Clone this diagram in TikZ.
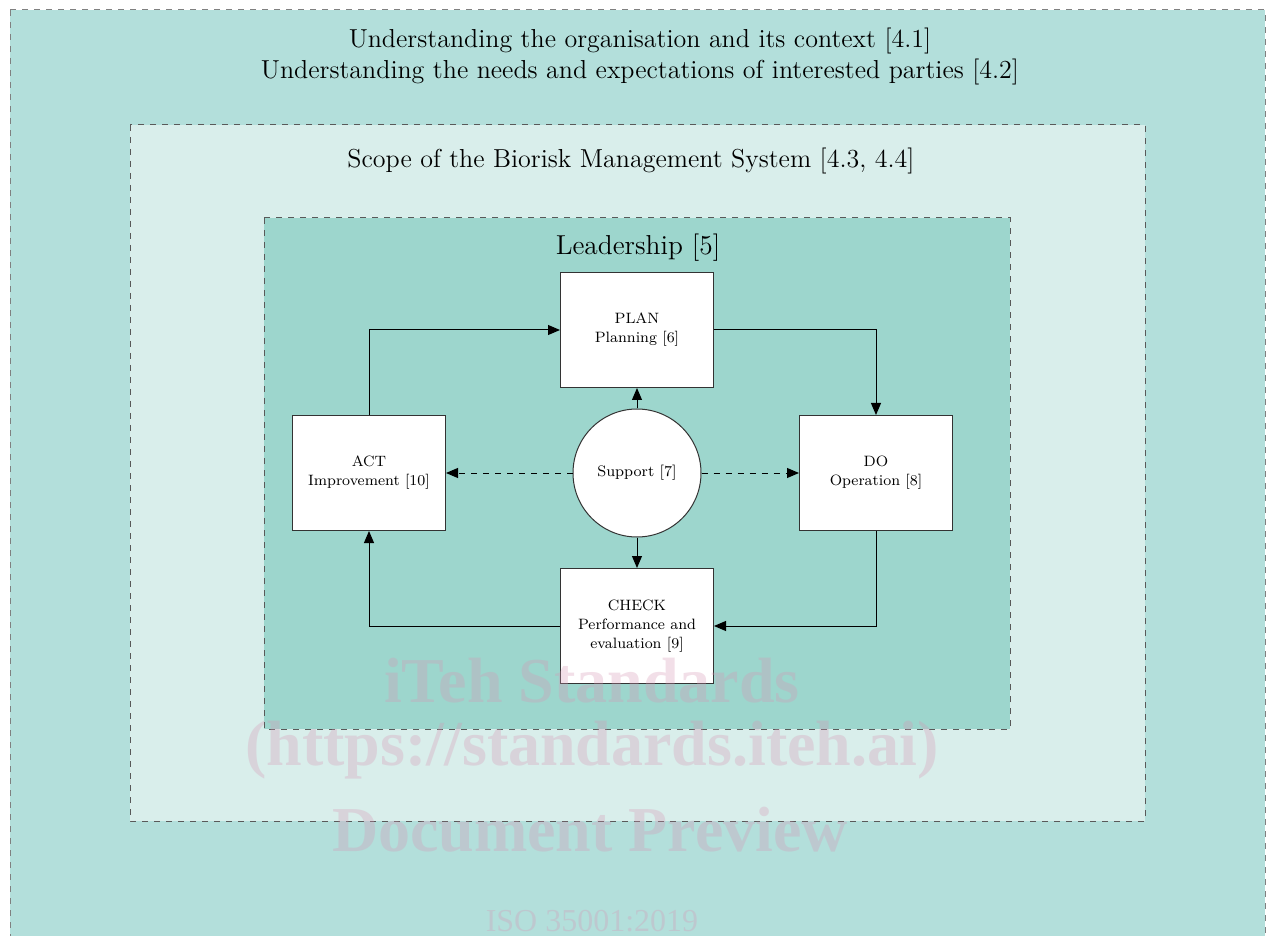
\documentclass[tikz,border=0pt]{standalone}
\usepackage{fontspec}
\usepackage{tikz}
\usepackage{xcolor}
\usetikzlibrary{arrows.meta}
\newfontfamily\markfont{Liberation Serif}
\definecolor{outer-teal}{RGB}{179,223,219}
\definecolor{scope-teal}{RGB}{217,238,235}
\definecolor{lead-teal}{RGB}{157,214,205}
\definecolor{mark-pink}{RGB}{215,150,180}
\tikzset{
    zone-box/.style = {draw=black!65, dashed, line width=0.5pt},
    zone-title/.style = {align=center, font=\fontsize{13}{15.5}\selectfont},
    step-box/.style = {draw=black!80, fill=white, line width=0.5pt, rectangle, minimum width=76.5pt, minimum height=57.5pt, align=center, font=\fontsize{7.5}{9.5}\selectfont},
    support-circle/.style = {draw=black!80, fill=white, line width=0.5pt, circle, minimum size=64pt, font=\fontsize{7.6}{9.5}\selectfont},
    flow/.style = {line width=0.5pt, -{Triangle[length=6pt,width=5pt]}},
    mark-text/.style = {text=mark-pink, opacity=0.3, font=\markfont\bfseries\fontsize{32}{32}\selectfont},
}

\begin{document}
\begin{tikzpicture}[x=0.5pt,y=-0.5pt]
\clip (0,0) rectangle (1270,936);
\fill[white] (0,0) rectangle (1270,936);
\draw[zone-box, fill=outer-teal, draw=black!50] (10,10) rectangle (1265,960);
\draw[zone-box, fill=scope-teal] (130,125) rectangle (1145,821);
\draw[zone-box, fill=lead-teal] (264,218) rectangle (1010,729);

\node[zone-title] (context) at (640,57) {Understanding the organisation and its context [4.1]\\Understanding the needs and expectations of interested parties [4.2]};
\node[zone-title] (scope) at (631,161) {Scope of the Biorisk Management System [4.3, 4.4]};
\node[zone-title, font=\fontsize{13.7}{15}\selectfont] (leadership) at (638,248) {Leadership [5]};

\node[step-box] (plan) at (637,330) {PLAN\\Planning [6]};
\node[step-box] (act) at (369,473) {ACT\\Improvement [10]};
\node[step-box] (do) at (876,473) {DO\\Operation [8]};
\node[step-box] (check) at (637,626) {CHECK\\Performance and\\evaluation [9]};
\node[support-circle] (support) at (637,473) {Support [7]};

\draw[flow] (act.north) |- (plan.west);
\draw[flow] (plan.east) -| (do.north);
\draw[flow] (do.south) |- (check.east);
\draw[flow] (check.west) -| (act.south);
\draw[flow] (support.north) -- (plan.south);
\draw[flow] (support.south) -- (check.north);
\draw[flow, dashed] (support.west) -- (act.east);
\draw[flow, dashed] (support.east) -- (do.west);

\node[mark-text] (mark-a) at (592,681) {iTeh Standards};
\node[mark-text] (mark-b) at (592,750) {(https://standards.iteh.ai)};
\node[mark-text] (mark-c) at (590,830) {Document Preview};
\node[mark-text, font=\markfont\fontsize{16}{16}\selectfont] (mark-d) at (592,921) {ISO 35001:2019};
\end{tikzpicture}
\end{document}
